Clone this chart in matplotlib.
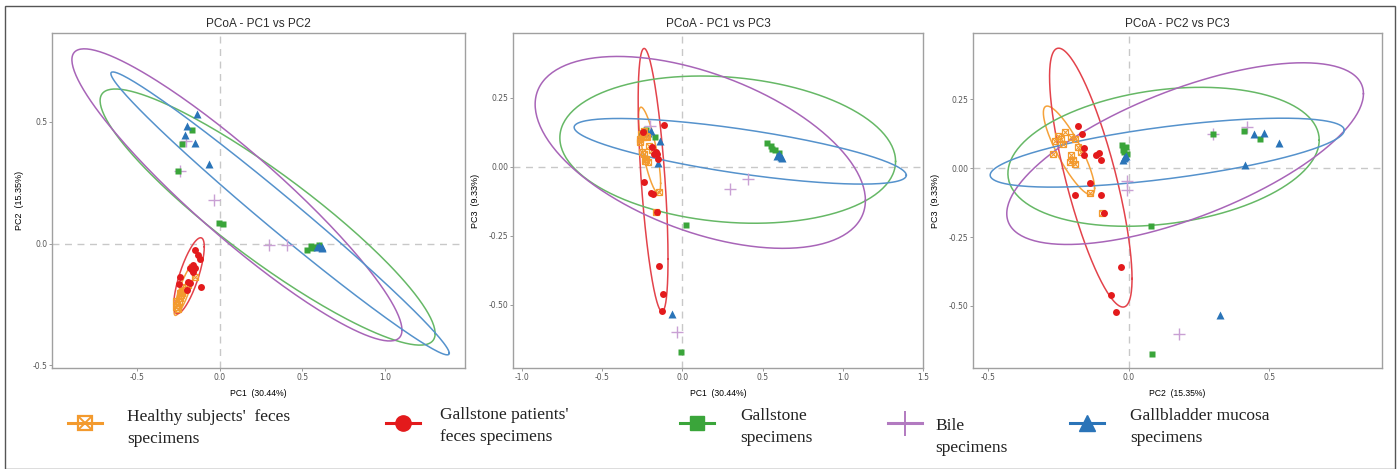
"""PCoA panels (PC1/PC2/PC3) with group ellipses and a manual legend row."""

import numpy as np
import matplotlib

matplotlib.use("Agg", force=True)
import matplotlib.pyplot as plt
from matplotlib.lines import Line2D
from matplotlib.patches import Rectangle

# --- sample coordinates, one list per group and axis --------------------------
healthy_pc1 = [-0.255, -0.245, -0.262, -0.228, -0.218, -0.238, -0.225, -0.212,
               -0.250, -0.232, -0.145, -0.166, -0.240, -0.205, -0.265, -0.190]
healthy_pc2 = [-0.252, -0.240, -0.234, -0.204, -0.192, -0.204, -0.198, -0.192,
               -0.269, -0.210, -0.139, -0.095, -0.225, -0.180, -0.260, -0.170]
healthy_pc3 = [0.118, 0.106, 0.088, 0.112, 0.106, 0.046, 0.028, 0.016,
               0.052, 0.022, -0.090, -0.163, 0.130, 0.075, 0.100, 0.060]

patient_pc1 = [-0.114, -0.244, -0.190, -0.175, -0.160, -0.165, -0.150, -0.238,
               -0.197, -0.180, -0.160, -0.145, -0.120, -0.129]
patient_pc2 = [-0.180, -0.165, -0.157, -0.160, -0.115, -0.107, -0.100, -0.139,
               -0.190, -0.100, -0.089, -0.026, -0.062, -0.046]
patient_pc3 = [0.151, 0.125, 0.072, 0.046, 0.046, 0.055, 0.028, -0.054,
               -0.096, -0.099, -0.163, -0.359, -0.461, -0.522]

stone_pc1 = [-0.167, -0.227, -0.248, 0.020, -0.005, 0.530, 0.550, 0.560, 0.580, 0.600]
stone_pc2 = [0.467, 0.410, 0.300, 0.080, 0.083, -0.025, -0.010, -0.020, -0.015, -0.005]
stone_pc3 = [0.106, 0.133, 0.124, -0.211, -0.673, 0.085, 0.075, 0.065, 0.060, 0.050]

bile_pc1 = [-0.237, -0.200, -0.035, 0.296, 0.407]
bile_pc2 = [0.300, 0.420, 0.178, -0.007, -0.007]
bile_pc3 = [0.125, 0.149, -0.600, -0.081, -0.045]

mucosa_pc1 = [-0.137, -0.197, -0.211, -0.149, -0.062, 0.600, 0.615, 0.620, 0.590]
mucosa_pc2 = [0.533, 0.481, 0.444, 0.413, 0.325, -0.010, -0.015, -0.020, -0.012]
mucosa_pc3 = [0.092, 0.128, 0.124, 0.012, -0.534, 0.045, 0.035, 0.030, 0.040]

# ellipses: (centre x, centre y, sd x, sd y, correlation)
# order: healthy, patient, gallstone, bile, mucosa
ell_pc1_pc2 = [(-0.212, -0.190, 0.062, 0.105, 0.86),
               (-0.184, -0.132, 0.092, 0.156, 0.76),
               (0.290, 0.109, 1.010, 0.526, -0.909),
               (0.105, 0.200, 0.995, 0.600, -0.925),
               (0.365, 0.124, 1.020, 0.581, -0.988)]
ell_pc1_pc3 = [(-0.204, 0.060, 0.069, 0.156, -0.77),
               (-0.182, -0.048, 0.093, 0.477, -0.60),
               (0.283, 0.062, 1.046, 0.267, -0.16),
               (0.112, 0.052, 1.029, 0.348, -0.50),
               (0.361, 0.056, 1.035, 0.119, -0.73)]
ell_pc2_pc3 = [(-0.212, 0.064, 0.091, 0.161, -0.85),
               (-0.1345, -0.0345, 0.1465, 0.4695, -0.78),
               (0.124, 0.041, 0.553, 0.252, 0.24),
               (0.2005, 0.0525, 0.6335, 0.3295, 0.66),
               (0.137, 0.056, 0.629, 0.125, 0.65)]

group_labels = ["Healthy subjects'  feces\nspecimens",
                "Gallstone patients'\nfeces specimens",
                "Gallstone\nspecimens",
                "Bile\nspecimens",
                "Gallbladder mucosa\nspecimens"]
axis_labels = ["PC1  (30.44%)", "PC2  (15.35%)", "PC3  (9.33%)"]

point_colors = ["#f39a2e", "#e31a1c", "#3aa53a", "#c9a0d4", "#2a74b8"]
ellipse_colors = ["#f5a23a", "#e3434b", "#66b866", "#a865b8", "#5592cc"]
legend_colors = ["#f39a2e", "#e31a1c", "#3aa53a", "#b27ac0", "#2a74b8"]

groups = [
    (healthy_pc1, healthy_pc2, healthy_pc3),
    (patient_pc1, patient_pc2, patient_pc3),
    (stone_pc1, stone_pc2, stone_pc3),
    (bile_pc1, bile_pc2, bile_pc3),
    (mucosa_pc1, mucosa_pc2, mucosa_pc3),
]


def ellipse_xy(cx, cy, sx, sy, rho, n=240):
    t = np.linspace(0, 2 * np.pi, n)
    x = cx + sx * np.cos(t)
    y = cy + sy * (rho * np.cos(t) + np.sqrt(1 - rho ** 2) * np.sin(t))
    return x, y


def draw_points(ax, gi, xs, ys, zorder=4):
    col = point_colors[gi]
    if gi == 0:
        ax.plot(xs, ys, ls="none", marker="s", ms=5, mfc="none", mec=col, mew=0.9, zorder=zorder)
        ax.plot(xs, ys, ls="none", marker="x", ms=4.5, mec=col, mew=0.8, zorder=zorder)
    elif gi == 1:
        ax.plot(xs, ys, ls="none", marker="o", ms=5, color=col, mec="none", zorder=zorder)
    elif gi == 2:
        ax.plot(xs, ys, ls="none", marker="s", ms=5, color=col, mec="none", zorder=zorder)
    elif gi == 3:
        ax.plot(xs, ys, ls="none", marker="+", ms=8, mew=1.0, color=col, zorder=zorder)
    else:
        ax.plot(xs, ys, ls="none", marker="^", ms=5.5, color=col, mec="none", zorder=zorder)


W, H = 1399, 469
fig = plt.figure(figsize=(W / 100, H / 100), dpi=100, facecolor="white")

panels = [
    dict(ix=0, iy=1, ell=ell_pc1_pc2, box=(52, 465), xlim=(-1.01, 1.48), ylim=(-0.511, 0.865),
         xticks=[-0.5, 0.0, 0.5, 1.0], yticks=[-0.5, 0.0, 0.5], yfmt="{:.1f}",
         title="PCoA - PC1 vs PC2"),
    dict(ix=0, iy=2, ell=ell_pc1_pc3, box=(513, 923), xlim=(-1.055, 1.5), ylim=(-0.73, 0.485),
         xticks=[-1.0, -0.5, 0.0, 0.5, 1.0, 1.5], yticks=[-0.5, -0.25, 0.0, 0.25], yfmt="{:.2f}",
         title="PCoA - PC1 vs PC3"),
    dict(ix=1, iy=2, ell=ell_pc2_pc3, box=(973, 1382), xlim=(-0.553, 0.90), ylim=(-0.725, 0.49),
         xticks=[-0.5, 0.0, 0.5], yticks=[-0.5, -0.25, 0.0, 0.25], yfmt="{:.2f}",
         title="PCoA - PC2 vs PC3"),
]

top_px, bot_px = 33, 368
for p in panels:
    x0, x1 = p["box"]
    ax = fig.add_axes([x0 / W, 1 - bot_px / H, (x1 - x0) / W, (bot_px - top_px) / H])
    ax.set_xlim(*p["xlim"])
    ax.set_ylim(*p["ylim"])
    ax.axhline(0, color="#c8c8c8", lw=1.0, ls=(0, (5, 4)), zorder=1)
    ax.axvline(0, color="#c8c8c8", lw=1.0, ls=(0, (5, 4)), zorder=1)

    for gi, params in enumerate(p["ell"]):
        ex, ey = ellipse_xy(*params)
        ax.plot(ex, ey, color=ellipse_colors[gi], lw=1.1, zorder=3)
    for gi in [3, 2, 4, 0, 1]:
        coords = groups[gi]
        draw_points(ax, gi, coords[p["ix"]], coords[p["iy"]])

    ax.set_xticks(p["xticks"])
    ax.set_xticklabels(["{:.1f}".format(v) for v in p["xticks"]])
    ax.set_yticks(p["yticks"])
    ax.set_yticklabels([p["yfmt"].format(v) for v in p["yticks"]])
    ax.tick_params(labelsize=5.5, colors="#8a8a8a", labelcolor="#555555", length=2, width=0.6, pad=1.5)
    for sp in ax.spines.values():
        sp.set_color("#a0a0a0")
        sp.set_linewidth(1.0)
    ax.set_xlabel(axis_labels[p["ix"]], fontsize=6.2, family="Liberation Sans", labelpad=5)
    ax.set_ylabel(axis_labels[p["iy"]], fontsize=6.5, family="Liberation Sans", labelpad=6)
    ax.set_title(p["title"], fontsize=8.5, family="Liberation Sans", color="#2a2a2a", pad=4)

# legend row drawn by hand so the uneven spacing of the original is kept
leg = fig.add_axes([0, 0, 1, 1], facecolor="none")
leg.set_xlim(0, W)
leg.set_ylim(H, 0)
leg.axis("off")
marker_x = [85, 403, 697, 905, 1087]
text_x = [127, 440, 740, 935, 1130]
text_y = [428, 426, 427, 437, 427]
marker_kw = [
    dict(marker="s", ms=10, mfc="none", mec=legend_colors[0], mew=1.6),
    dict(marker="o", ms=11, color=legend_colors[1]),
    dict(marker="s", ms=10, color=legend_colors[2]),
    dict(marker="+", ms=18, mew=1.4, color=legend_colors[3]),
    dict(marker="^", ms=12, color=legend_colors[4]),
]
for gi in range(5):
    mx, my = marker_x[gi], 423
    leg.add_line(Line2D([mx - 17, mx + 17], [my, my], color=legend_colors[gi], lw=2.2))
    leg.plot([mx], [my], ls="none", **marker_kw[gi])
    if gi == 0:
        leg.plot([mx], [my], ls="none", marker="x", ms=8, mec=legend_colors[0], mew=1.4)
    leg.text(text_x[gi], text_y[gi], group_labels[gi], fontsize=12.5, family="Liberation Serif",
             color="#222222", va="center", ha="left", linespacing=1.55)

# thin frame around the whole figure
fig.patches.append(Rectangle((5 / W, 0.0), 1390 / W, 1 - 6 / H, transform=fig.transFigure,
                             fill=False, ec="#555555", lw=1.0))

fig.savefig("out.png", dpi=100)
plt.close(fig)
